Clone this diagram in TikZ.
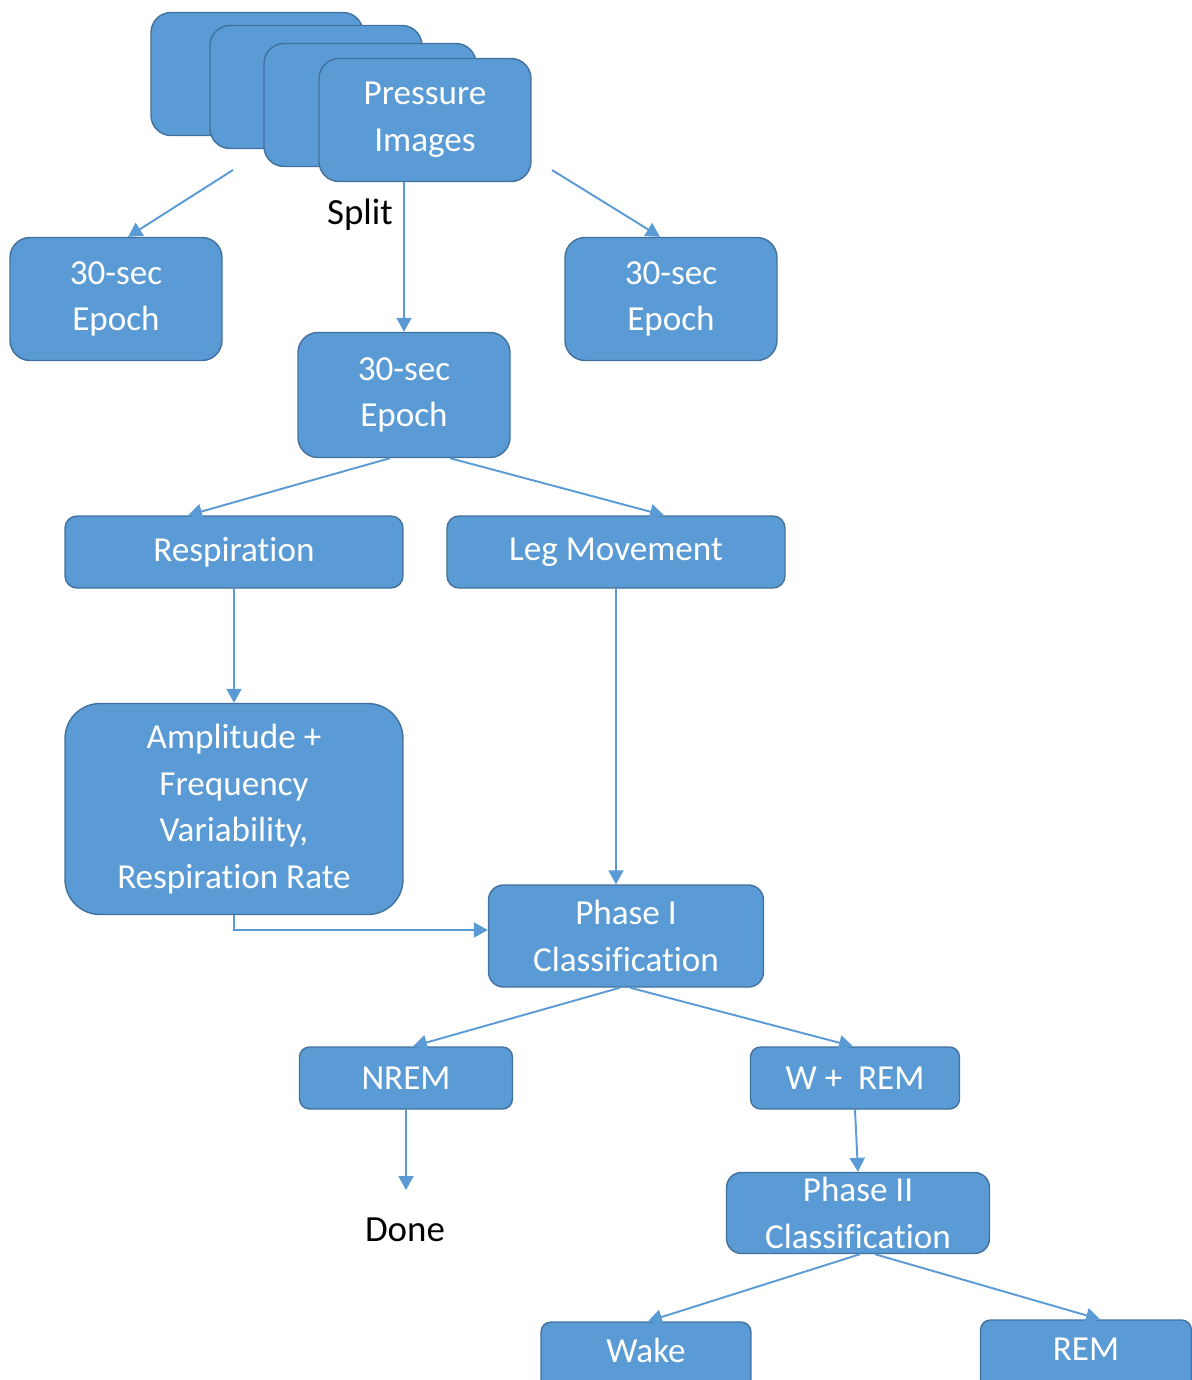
\documentclass[tikz,border=0pt]{standalone}
\usepackage{fontspec}
\setmainfont{Carlito}[RawFeature={-liga}]
\usepackage{xcolor}
\definecolor{box-fill}{HTML}{5B9BD5}
\definecolor{box-edge}{HTML}{41719C}
\definecolor{link-blue}{HTML}{5B9BD5}
\usetikzlibrary{arrows.meta}

\tikzset{
  block/.style={draw=box-edge, line width=0.8pt, fill=box-fill, text=white, align=center, inner sep=0pt, font=\fontsize{20}{26.5}\selectfont},
  cutblock/.style={block, anchor=base, text height=0.8cm, text depth=0.8cm},
  link/.style={draw=link-blue, line width=1.1pt, -{Triangle[width=0.3cm, length=0.28cm]}},
  plaintext/.style={font=\fontsize{21}{26}\selectfont, text=black, inner sep=0pt}
}

\begin{document}
\begin{tikzpicture}[x=0.02cm, y=-0.02cm]

    % Frame
    \useasboundingbox (0, 0) rectangle (1192, 1380);
    \clip (0, 0) rectangle (1192, 1380);

    % Image stack
    \node[block, rounded corners=0.4cm, minimum width=4.24cm, minimum height=2.46cm] (stackA) at (257, 74) {};
    \node[block, rounded corners=0.4cm, minimum width=4.24cm, minimum height=2.46cm] (stackB) at (316, 87) {};
    \node[block, rounded corners=0.4cm, minimum width=4.24cm, minimum height=2.46cm] (stackC) at (370, 105) {};
    \node[block, rounded corners=0.4cm, minimum width=4.24cm, minimum height=2.46cm] (press) at (425, 120) {Pressure\\Images};
    \node[plaintext] (split) at (360, 215) {Split};

    % Epochs
    \node[block, rounded corners=0.4cm, minimum width=4.24cm, minimum height=2.46cm] (epochL) at (116, 299) {30-sec\\Epoch};
    \node[block, rounded corners=0.4cm, minimum width=4.24cm, minimum height=2.46cm] (epochR) at (671, 299) {30-sec\\Epoch};
    \node[block, rounded corners=0.4cm, minimum width=4.24cm, minimum height=2.5cm] (epochM) at (404, 395) {30-sec\\Epoch};

    % Features
    \node[block, rounded corners=0.24cm, minimum width=6.76cm, minimum height=1.44cm] (resp) at (234, 552) {Respiration};
    \node[block, rounded corners=0.24cm, minimum width=6.76cm, minimum height=1.44cm] (leg) at (616, 552) {Leg Movement};
    \node[block, rounded corners=0.7cm, minimum width=6.76cm, minimum height=4.22cm] (amp) at (234, 809) {Amplitude +\\Frequency\\Variability,\\Respiration Rate};

    % Classification
    \node[block, rounded corners=0.3cm, minimum width=5.5cm, minimum height=2.04cm] (phase1) at (626, 936) {Phase I\\Classification};
    \node[block, rounded corners=0.2cm, minimum width=4.26cm, minimum height=1.24cm] (nrem) at (406, 1078) {NREM};
    \node[block, rounded corners=0.2cm, minimum width=4.18cm, minimum height=1.24cm] (wrem) at (855, 1078) {W +~~REM};
    \node[plaintext] (done) at (405, 1230) {Done};
    \node[block, rounded corners=0.3cm, minimum width=5.26cm, minimum height=1.62cm] (phase2) at (858, 1213) {Phase II\\Classification};
    \node[cutblock, rounded corners=0.2cm, minimum width=4.2cm] (wake) at (646, 1362) {Wake};
    \node[cutblock, rounded corners=0.2cm, minimum width=4.22cm] (rem) at (1086, 1360) {REM};

    % Connectors
    \coordinate (splitL) at (233, 170);
    \coordinate (splitR) at (552, 170);
    \coordinate (doneTop) at (406, 1190);

    \draw[link] (splitL) -- ([xshift=0.24cm]epochL.north);
    \draw[link] (splitR) -- ([xshift=-0.22cm]epochR.north);
    \draw[link] (press.south -| epochM.north) -- (epochM.north);

    \draw[link] ([xshift=-0.28cm]epochM.south) -- ([xshift=-0.92cm]resp.north);
    \draw[link] ([xshift=0.92cm]epochM.south) -- ([xshift=0.96cm]leg.north);

    \draw[link] (resp.south) -- (amp.north);
    \draw[link] (leg.south) -- (leg.south |- phase1.north);
    \draw[link] (amp.south) |- ([yshift=0.12cm]phase1.west);

    \draw[link] ([xshift=-0.12cm]phase1.south) -- ([xshift=0.14cm]nrem.north);
    \draw[link] ([xshift=0.08cm]phase1.south) -- ([xshift=-0.04cm]wrem.north);
    \draw[link] (nrem.south) -- (doneTop);

    \draw[link] (wrem.south) -- (phase2.north);
    \draw[link] ([xshift=0.04cm]phase2.south) -- ([xshift=0.04cm]wake.north);
    \draw[link] ([xshift=0.34cm]phase2.south) -- ([xshift=0.28cm]rem.north);

\end{tikzpicture}
\end{document}
